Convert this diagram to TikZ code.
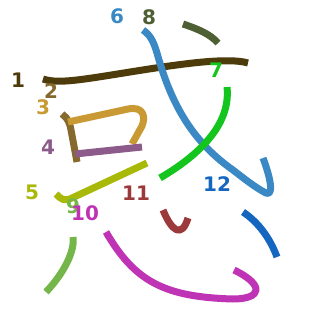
\documentclass[tikz,border=0pt]{standalone}
\usepackage{fontspec}
\setsansfont{DejaVu Sans}
\definecolor{ca}{HTML}{4D3B0B}
\definecolor{cb}{HTML}{86692C}
\definecolor{cc}{HTML}{C99A33}
\definecolor{cd}{HTML}{8C5B8A}
\definecolor{ce}{HTML}{A9B90A}
\definecolor{cf}{HTML}{3A88C4}
\definecolor{cg}{HTML}{13C51C}
\definecolor{ch}{HTML}{4E5F33}
\definecolor{ci}{HTML}{74B64A}
\definecolor{cj}{HTML}{BF33B5}
\definecolor{ck}{HTML}{9C3A3B}
\definecolor{cl}{HTML}{1466BF}
\tikzset{
  stroke/.style={line width=7pt,line join=round},
  num/.style={font=\sffamily\bfseries\fontsize{20}{20}\selectfont,inner sep=0pt}
}
\begin{document}
\begin{tikzpicture}[x=1pt,y=-1pt]
  \useasboundingbox (0,0) rectangle (327,327);
  % strokes, in writing order
  \draw[stroke,ca] (43,79) .. controls (58,84) and (80,80) .. (130,72) .. controls (180,64) and (228,57) .. (248,63);
  \draw[stroke,cb] (62,114) .. controls (68,118) and (70,124) .. (71,130) -- (77,162);
  \draw[stroke,cc] (68,122) -- (128,109) .. controls (143,106) and (146,116) .. (142,126) -- (132,144);
  \draw[stroke,cd] (75,154) -- (142,147);
  \draw[stroke,ce] (56,194) .. controls (61,199) and (64,202) .. (72,198) -- (147,163);
  \draw[stroke,cf] (143,30) .. controls (150,35) and (153,40) .. (157,53) .. controls (170,100) and (190,140) .. (233,170) .. controls (252,185) and (260,190) .. (266,193) .. controls (273,196) and (272,182) .. (263,158);
  \draw[stroke,cg] (227,87) .. controls (229,105) and (225,140) .. (160,178);
  \draw[stroke,ch] (183,24) .. controls (198,29) and (210,34) .. (218,43);
  \draw[stroke,ci] (73,237) .. controls (75,250) and (65,272) .. (46,292);
  \draw[stroke,cj] (106,232) .. controls (135,282) and (165,297) .. (233,299) .. controls (262,299) and (265,285) .. (234,270);
  \draw[stroke,ck] (163,210) .. controls (172,232) and (182,238) .. (188,218);
  \draw[stroke,cl] (243,212) .. controls (258,222) and (270,238) .. (277,257);
  % numbers
  \foreach \n/\x/\y/\c in {1/18/80/ca,2/51/91/cb,3/43/107/cc,4/48/147/cd,5/32/192/ce,6/117/16/cf,
    7/216/70/cg,8/149/17/ch,9/73/206/ci,10/85/213/cj,11/136/193/ck,12/217/184/cl}
    \node[num,text=\c] (n\n) at (\x,\y) {\n};
\end{tikzpicture}
\end{document}
